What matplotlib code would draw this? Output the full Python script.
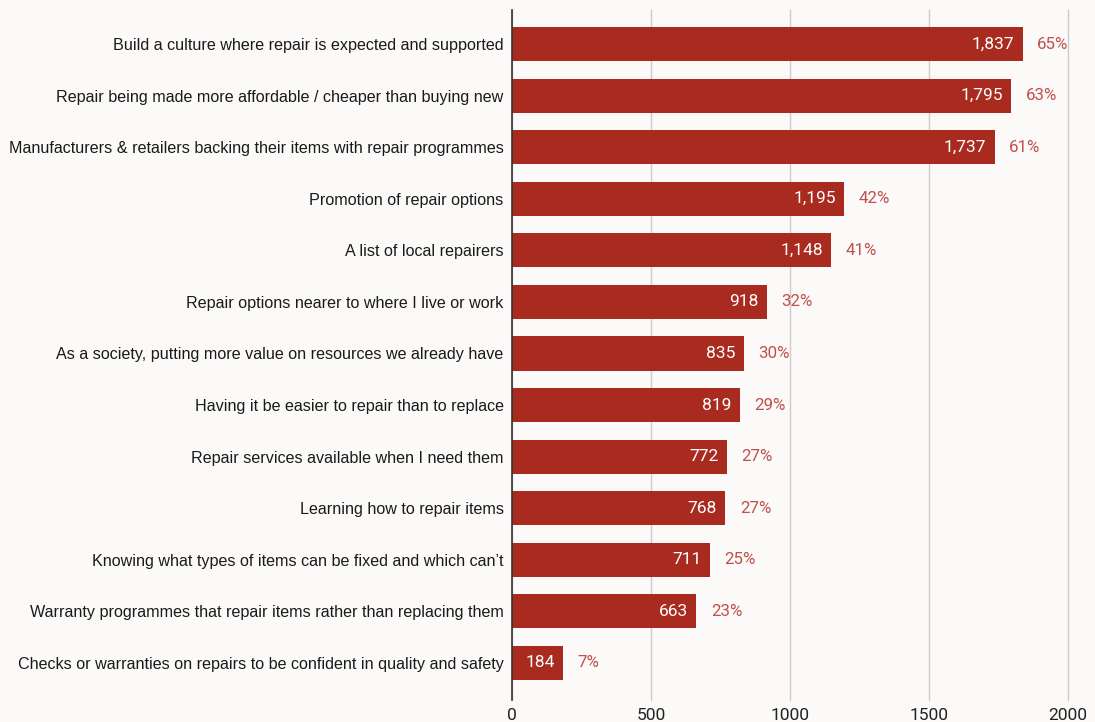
import matplotlib.pyplot as plt

# Data
labels = [
    "Build a culture where repair is expected and supported",
    "Repair being made more affordable / cheaper than buying new",
    "Manufacturers & retailers backing their items with repair programmes",
    "Promotion of repair options",
    "A list of local repairers",
    "Repair options nearer to where I live or work",
    "As a society, putting more value on resources we already have",
    "Having it be easier to repair than to replace",
    "Repair services available when I need them",
    "Learning how to repair items",
    "Knowing what types of items can be fixed and which can\u2019t",
    "Warranty programmes that repair items rather than replacing them",
    "Checks or warranties on repairs to be confident in quality and safety",
]
counts = [1837, 1795, 1737, 1195, 1148, 918, 835, 819, 772, 768, 711, 663, 184]
percents = [65, 63, 61, 42, 41, 32, 30, 29, 27, 27, 25, 23, 7]
xticks = [0, 500, 1000, 1500, 2000]

bg = "#fbfaf8"
bar_color = "#a92b1f"
pct_color = "#c0504d"

fig = plt.figure(figsize=(10.95, 7.22), dpi=100, facecolor=bg)
ax = fig.add_axes([0.4676, 0.0305, 0.5077, 0.9555], facecolor=bg)

pos = list(range(len(labels)))
ax.barh(pos, counts, height=0.66, color=bar_color, zorder=3)

for y, c, p in zip(pos, counts, percents):
    ax.text(c - 30, y, f"{c:,}", ha="right", va="center", color="white",
            fontsize=12.5, family="Roboto", zorder=4)
    ax.text(c + 52, y, f"{p}%", ha="left", va="center", color=pct_color,
            fontsize=12.2, family="Roboto", zorder=4)

ax.set_xlim(0, 2000)
ax.set_ylim(12.72, -0.66)
ax.set_yticks(pos)
ax.set_yticklabels(labels, fontsize=11.6, family="Liberation Sans", color="#1a1a1a")
ax.set_xticks(xticks)
ax.set_xticklabels([str(t) for t in xticks], fontsize=12.5, family="Roboto", color="#222222")
ax.tick_params(axis="both", length=0, pad=6)
ax.tick_params(axis="x", pad=6)
ax.grid(axis="x", color="#cccccc", linewidth=1, zorder=0)
for gl in ax.get_xgridlines():
    gl.set_clip_on(False)

for s in ["top", "right", "bottom"]:
    ax.spines[s].set_visible(False)
ax.spines["left"].set_color("#333333")
ax.spines["left"].set_linewidth(1.2)
ax.spines["left"].set_zorder(5)

fig.savefig("out.png", dpi=100, facecolor=bg)
